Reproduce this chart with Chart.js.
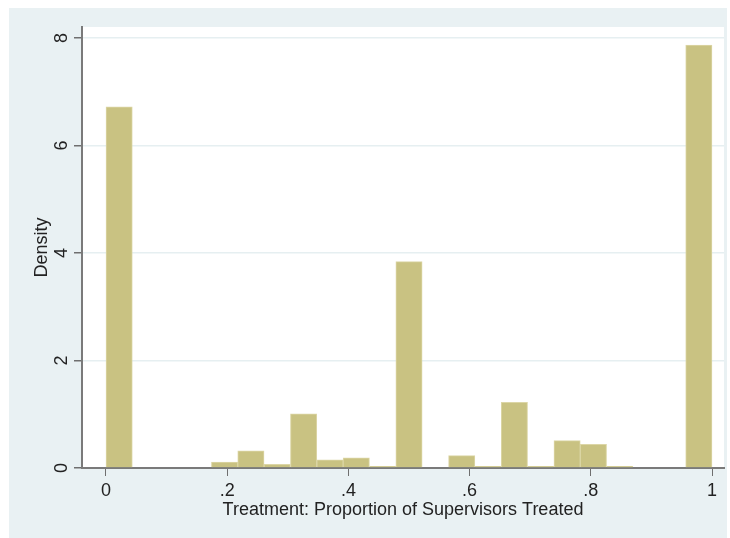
<!DOCTYPE html>
<html>
<head>
<meta charset="utf-8">
<script src="https://cdn.jsdelivr.net/npm/chart.js@4.4.1/dist/chart.umd.min.js"></script>
<style>
  html, body { margin: 0; padding: 0; background: #fff; }
  canvas { display: block; }
</style>
</head>
<body>
<canvas id="histChart" width="730" height="538" style="width:730px;height:538px"></canvas>
<script>
// bin centres (23 bins between 0 and 1) and their densities
const binCenters = [0.0217, 0.0652, 0.1087, 0.1522, 0.1957, 0.2391, 0.2826, 0.3261,
  0.3696, 0.4130, 0.4565, 0.5000, 0.5435, 0.5870, 0.6304, 0.6739, 0.7174, 0.7609,
  0.8043, 0.8478, 0.8913, 0.9348, 0.9783];
const densities = [6.72, 0, 0, 0, 0.11, 0.32, 0.07, 1.01, 0.15, 0.19, 0.03, 3.84,
  0, 0.23, 0.03, 1.22, 0.03, 0.51, 0.44, 0.03, 0, 0, 7.87];

const xTickValues = [0, 0.2, 0.4, 0.6, 0.8, 1];
const xTickLabels = ['0', '.2', '.4', '.6', '.8', '1'];
const yTickValues = [0, 2, 4, 6, 8];
const yTickLabels = ['0', '2', '4', '6', '8'];

const FONT = "'Liberation Sans', Arial, sans-serif";

// Stata-like backgrounds: bluish outer region, white plot region
const backgrounds = {
  id: 'backgrounds',
  beforeDraw(chart) {
    const { ctx, chartArea } = chart;
    ctx.save();
    ctx.fillStyle = '#ffffff';
    ctx.fillRect(0, 0, chart.width, chart.height);
    ctx.fillStyle = '#e9f1f3';
    ctx.fillRect(9, 8, 718, 530);
    ctx.fillStyle = '#ffffff';
    ctx.fillRect(chartArea.left, chartArea.top, chartArea.right - chartArea.left, chartArea.bottom - chartArea.top);
    ctx.restore();
  }
};

new Chart(document.getElementById('histChart'), {
  type: 'bar',
  data: {
    datasets: [{
      data: binCenters.map((x, i) => ({ x: x, y: densities[i] })),
      backgroundColor: '#c9c282',
      borderColor: '#dcd6a6',
      borderWidth: 1,
      barPercentage: 1,
      categoryPercentage: 1
    }]
  },
  options: {
    responsive: false,
    animation: false,
    devicePixelRatio: 1,
    layout: { padding: { top: 27, right: 6, left: 0, bottom: 0 } },
    plugins: {
      legend: { display: false },
      tooltip: { enabled: false }
    },
    scales: {
      x: {
        type: 'linear',
        min: -0.0396,
        max: 1.0198,
        offset: false,
        afterFit: (scale) => { scale.height = 70; },
        afterBuildTicks: (scale) => { scale.ticks = xTickValues.map(v => ({ value: v })); },
        ticks: {
          color: '#222',
          font: { family: FONT, size: 18 },
          padding: 4,
          maxRotation: 0,
          callback: (v) => xTickLabels[xTickValues.indexOf(v)]
        },
        grid: {
          drawOnChartArea: false,
          drawTicks: true,
          tickLength: 8,
          tickColor: '#6f6f6f',
          offset: false
        },
        border: { color: '#7a7a7a', width: 2 },
        title: {
          display: true,
          text: 'Treatment: Proportion of Supervisors Treated',
          color: '#222',
          font: { family: FONT, size: 18 },
          padding: { top: 0, bottom: 17 }
        }
      },
      y: {
        min: 0,
        max: 8.205,
        afterFit: (scale) => { scale.width = 82; },
        afterBuildTicks: (scale) => { scale.ticks = yTickValues.map(v => ({ value: v })); },
        ticks: {
          color: '#222',
          font: { family: FONT, size: 18 },
          minRotation: 90,
          maxRotation: 90,
          crossAlign: 'center',
          padding: 7,
          callback: (v) => yTickLabels[yTickValues.indexOf(v)]
        },
        grid: {
          color: '#e6eff1',
          lineWidth: 1.5,
          tickLength: 8,
          tickColor: '#6f6f6f'
        },
        border: { color: '#7a7a7a', width: 2 },
        title: {
          display: true,
          text: 'Density',
          color: '#222',
          font: { family: FONT, size: 18 },
          padding: { top: 31, bottom: 0 }
        }
      }
    }
  },
  plugins: [backgrounds]
});
</script>
</body>
</html>
